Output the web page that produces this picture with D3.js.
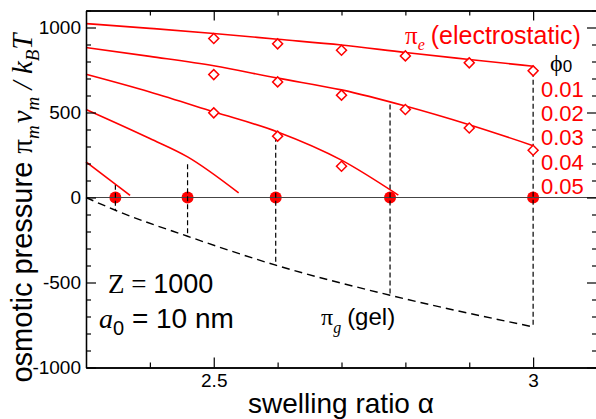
<!DOCTYPE html>
<html>
<head>
<meta charset="utf-8">
<script src="https://cdn.jsdelivr.net/npm/d3@7"></script>
<style>
  html, body { margin: 0; padding: 0; background: #fff; }
  svg { display: block; }
</style>
</head>
<body>
<svg id="chart" width="596" height="419"></svg>
<script>
// ---------------- data ----------------
const phi0Labels = ["0.01", "0.02", "0.03", "0.04", "0.05"];
const xMajorTicks = [2.5, 3];
const xMinorTicks = [2.4, 2.6, 2.7, 2.8, 2.9];
const yMajorTicks = [-1000, -500, 0, 500, 1000];
const yMinorTicks = [-900, -800, -700, -600, -400, -300, -200, -100, 100, 200, 300, 400, 600, 700, 800, 900, 1100];

// electrostatic pressure curves (pi_e), one per phi0
const pe1Alpha = [2.3, 2.4, 2.5, 2.6, 2.7, 2.8, 2.9, 3.0];
const pe1Value = [1023, 995, 965, 931, 897, 853, 812, 772];
const pe2Alpha = [2.3, 2.4, 2.5, 2.6, 2.7, 2.8, 2.9, 3.0];
const pe2Value = [882, 830, 775, 702, 633, 538, 428, 305];
const pe3Alpha = [2.3, 2.4, 2.5, 2.6, 2.7, 2.789];
const pe3Value = [725, 621, 504, 386, 220, 14];
const pe4Alpha = [2.3, 2.4, 2.459, 2.539];
const pe4Value = [518, 347, 239, 27];
const pe5Alpha = [2.3, 2.369];
const pe5Value = [210, 13];

// diamond markers (simulation)
const dm1Alpha = [2.5, 2.6, 2.7, 2.8, 2.9, 3.0];
const dm1Value = [935, 904, 866, 833, 792, 745];
const dm2Alpha = [2.5, 2.6, 2.7, 2.8, 2.9, 3.0];
const dm2Value = [723, 680, 602, 518, 409, 278];
const dm3Alpha = [2.5, 2.6, 2.7];
const dm3Value = [498, 361, 184];

// gel pressure (pi_g)
const gelAlpha = [2.3, 2.346, 2.459, 2.597, 2.776, 3.0];
const gelValue = [0, -75, -228, -398, -575, -761];

// equilibrium points
const eqAlpha = [2.346, 2.459, 2.597, 2.776, 3.0];
const eqTop = [75, 196, 357, 547, 739];
const eqBottom = [-75, -228, -398, -575, -761];

// ---------------- chart ----------------
const svg = d3.select("#chart");
const x = d3.scaleLinear().domain([2.3, 3.1]).range([86, 597]);
const y = d3.scaleLinear().domain([-1000, 1100]).range([367.5, 10.5]);
const [x0, x1] = x.range();
const [yb, yt] = y.range();

const red = "#ff0000";
const zip = (a, b) => a.map((v, i) => [v, b[i]]);

// equilibrium dots (drawn first so lines go over them)
svg.append("g").selectAll("circle").data(eqAlpha).join("circle")
  .attr("cx", d => x(d)).attr("cy", y(0)).attr("r", 6).attr("fill", red);

// zero line
svg.append("line").attr("x1", x0).attr("x2", x1).attr("y1", y(0)).attr("y2", y(0))
  .attr("stroke", "#444").attr("stroke-width", 1.2);

// vertical dashed lines
svg.append("g").selectAll("line").data(eqAlpha).join("line")
  .attr("x1", d => x(d)).attr("x2", d => x(d))
  .attr("y1", (d, i) => y(eqTop[i])).attr("y2", (d, i) => y(eqBottom[i]))
  .attr("stroke", "#000").attr("stroke-width", 1.2).attr("stroke-dasharray", "5,3");

// gel curve
const line = d3.line().x(d => x(d[0])).y(d => y(d[1])).curve(d3.curveMonotoneX);
svg.append("path").datum(zip(gelAlpha, gelValue)).attr("d", line)
  .attr("fill", "none").attr("stroke", "#000").attr("stroke-width", 1.4)
  .attr("stroke-dasharray", "8,5");

// red curves
const peCurves = [zip(pe1Alpha, pe1Value), zip(pe2Alpha, pe2Value), zip(pe3Alpha, pe3Value),
                  zip(pe4Alpha, pe4Value), zip(pe5Alpha, pe5Value)];
svg.append("g").selectAll("path").data(peCurves).join("path")
  .attr("d", d => line(d)).attr("fill", "none").attr("stroke", red).attr("stroke-width", 1.6);

// diamonds
const diamonds = [].concat(zip(dm1Alpha, dm1Value), zip(dm2Alpha, dm2Value), zip(dm3Alpha, dm3Value));
const sym = d3.symbol().type(d3.symbolSquare).size(50);
svg.append("g").selectAll("path").data(diamonds).join("path")
  .attr("d", sym)
  .attr("transform", d => `translate(${x(d[0])},${y(d[1])}) rotate(45)`)
  .attr("fill", "#fff").attr("stroke", red).attr("stroke-width", 1.5);

// ---------------- axes ----------------
const SANS = '"Liberation Sans", Arial, Helvetica, sans-serif';
const SERIF = '"Liberation Serif", "Times New Roman", serif';

function styleAxis(g) {
  g.selectAll(".domain").attr("stroke", "#000").attr("stroke-width", 1.3);
  g.selectAll(".tick line").attr("stroke", "#000").attr("stroke-width", 1.2);
  g.selectAll(".tick text").attr("font-size", 19).attr("fill", "#000").attr("font-family", SANS);
}
const fmt = d => String(d);
// bottom
svg.append("g").attr("transform", `translate(0,${yb})`)
  .call(d3.axisBottom(x).tickValues(xMinorTicks).tickSizeInner(-5).tickSizeOuter(0).tickFormat(""))
  .call(styleAxis);
svg.append("g").attr("transform", `translate(0,${yb})`)
  .call(d3.axisBottom(x).tickValues(xMajorTicks).tickSizeInner(-10).tickSizeOuter(0).tickPadding(6).tickFormat(fmt))
  .call(styleAxis);
// top
svg.append("g").attr("transform", `translate(0,${yt})`)
  .call(d3.axisTop(x).tickValues(xMinorTicks).tickSizeInner(-5).tickSizeOuter(0).tickFormat(""))
  .call(styleAxis);
svg.append("g").attr("transform", `translate(0,${yt})`)
  .call(d3.axisTop(x).tickValues(xMajorTicks).tickSizeInner(-10).tickSizeOuter(0).tickFormat(""))
  .call(styleAxis);
// left
svg.append("g").attr("transform", `translate(${x0},0)`)
  .call(d3.axisLeft(y).tickValues(yMinorTicks).tickSizeInner(-5).tickSizeOuter(0).tickFormat(""))
  .call(styleAxis);
svg.append("g").attr("transform", `translate(${x0},0)`)
  .call(d3.axisLeft(y).tickValues(yMajorTicks).tickSizeInner(-10).tickSizeOuter(0).tickPadding(5).tickFormat(fmt))
  .call(styleAxis);
// right
svg.append("g").attr("transform", `translate(${x1},0)`)
  .call(d3.axisRight(y).tickValues(yMinorTicks).tickSizeInner(-5).tickSizeOuter(0).tickFormat(""))
  .call(styleAxis);
svg.append("g").attr("transform", `translate(${x1},0)`)
  .call(d3.axisRight(y).tickValues(yMajorTicks).tickSizeInner(-10).tickSizeOuter(0).tickFormat(""))
  .call(styleAxis);

// ---------------- texts ----------------
// x label
svg.append("text").attr("x", 341).attr("y", 413).attr("text-anchor", "middle")
  .attr("font-family", SANS).attr("font-size", 28).text("swelling ratio α");

// y label
const yl = svg.append("text").attr("transform", "translate(32,208) rotate(-90)")
  .attr("text-anchor", "middle").attr("font-family", SANS).attr("font-size", 29);
yl.append("tspan").text("osmotic pressure ");
yl.append("tspan").attr("font-family", SERIF).attr("font-size", 29).text("π");
yl.append("tspan").attr("font-family", SERIF).attr("font-style", "italic").attr("font-size", 19).attr("dy", 7).text("m");
yl.append("tspan").attr("font-family", SERIF).attr("font-style", "italic").attr("font-size", 29).attr("dy", -7).attr("dx", 2).text("ν");
yl.append("tspan").attr("font-family", SERIF).attr("font-style", "italic").attr("font-size", 19).attr("dy", 7).text("m");
yl.append("tspan").attr("font-family", SERIF).attr("font-style", "italic").attr("font-size", 29).attr("dy", -7).text(" / k");
yl.append("tspan").attr("font-family", SERIF).attr("font-style", "italic").attr("font-size", 19).attr("dy", 7).text("B");
yl.append("tspan").attr("font-family", SERIF).attr("font-style", "italic").attr("font-size", 29).attr("dy", -7).text("T");

// Z = 1000
const tz = svg.append("text").attr("x", 108).attr("y", 293).attr("font-size", 27).attr("font-family", SANS);
tz.append("tspan").attr("font-family", SERIF).text("Z = ");
tz.append("tspan").text("1000");

// a0 = 10 nm
const ta = svg.append("text").attr("x", 99).attr("y", 328).attr("font-size", 28).attr("font-family", SANS);
ta.append("tspan").attr("font-family", SERIF).attr("font-style", "italic").text("a");
ta.append("tspan").attr("font-size", 20).attr("dy", 7).text("0");
ta.append("tspan").attr("dy", -7).text(" = 10 nm");

// pi_g (gel)
const tg = svg.append("text").attr("x", 321).attr("y", 325).attr("font-size", 24).attr("font-family", SANS);
tg.append("tspan").attr("font-family", SERIF).text("π");
tg.append("tspan").attr("font-family", SERIF).attr("font-style", "italic").attr("font-size", 16).attr("dy", 8).text("g");
tg.append("tspan").attr("dy", -8).attr("dx", 6).text("(gel)");

// pi_e (electrostatic)
const te = svg.append("text").attr("x", 405).attr("y", 44).attr("font-size", 25).attr("font-family", SANS).attr("fill", red);
te.append("tspan").attr("font-family", SERIF).text("π");
te.append("tspan").attr("font-family", SERIF).attr("font-style", "italic").attr("font-size", 16).attr("dy", 6).text("e");
te.append("tspan").attr("dy", -6).attr("dx", 6).text("(electrostatic)");

// phi0
const tp = svg.append("text").attr("x", 550).attr("y", 71).attr("font-size", 24).attr("font-family", SERIF);
tp.append("tspan").text("ϕ");
tp.append("tspan").attr("font-family", SANS).attr("font-size", 17).attr("dy", 1).text("0");

// phi0 values
svg.append("g").selectAll("text").data(phi0Labels).join("text")
  .attr("x", 541).attr("y", (d, i) => 96.5 + i * 24.4)
  .attr("font-family", SANS).attr("font-size", 22).attr("fill", red).text(d => d);
</script>
</body>
</html>
